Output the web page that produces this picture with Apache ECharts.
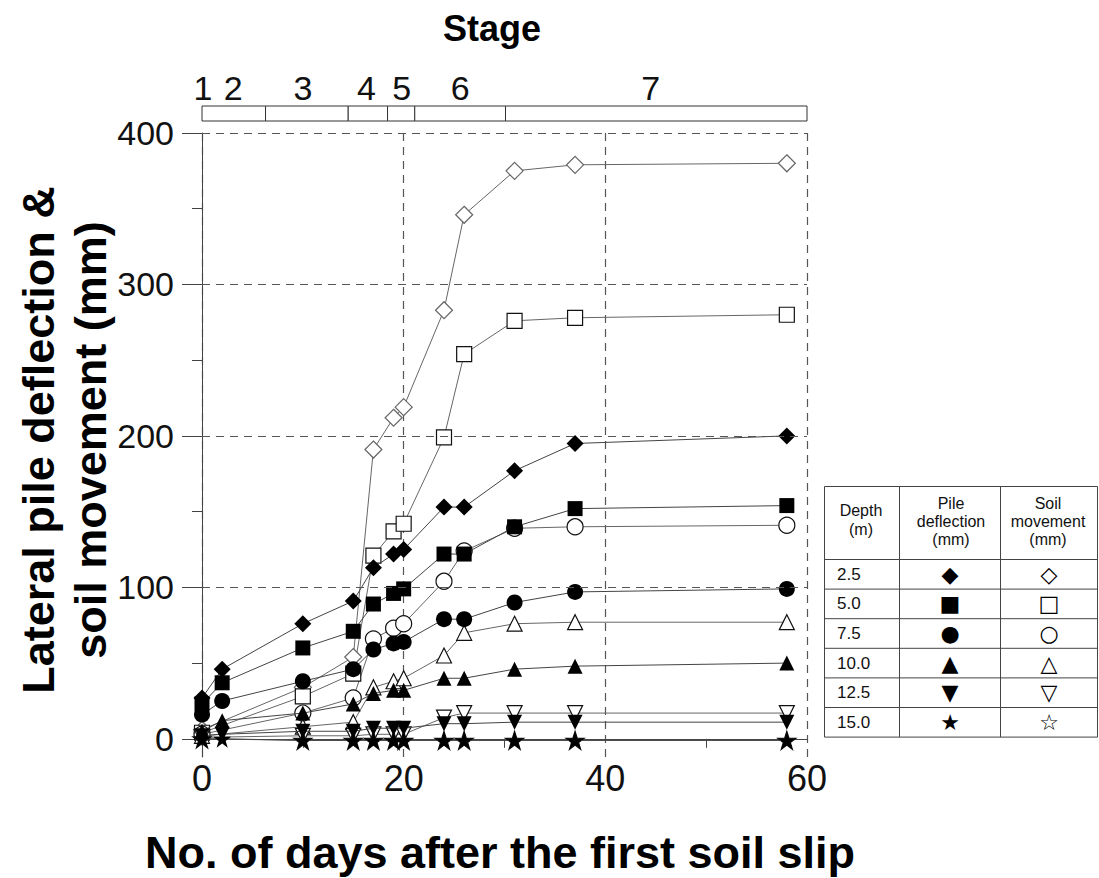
<!DOCTYPE html>
<html>
<head>
<meta charset="utf-8">
<script src="https://cdn.jsdelivr.net/npm/echarts@6/dist/echarts.min.js"></script>
<style>
  html, body { margin: 0; padding: 0; background: #fff; }
  #chart { width: 1099px; height: 878px; }
</style>
</head>
<body>
<div id="chart"></div>
<script>
// days of each reading
const pileDays = [0, 2, 10, 15, 17, 19, 20, 24, 26, 31, 37, 58];
const soilDays = [0, 10, 15, 17, 19, 20, 24, 26, 31, 37, 58];

// pile deflection (mm) per depth
const pile25 = [27, 46, 76, 91, 113, 122, 125, 153, 153, 177, 195, 200];
const pile50 = [23, 37, 60, 71, 89, 96, 99, 122, 122, 140, 152, 154];
const pile75 = [16, 25, 38, 46, 59, 63, 64, 79, 79, 90, 97, 99];
const pile100 = [5, 12, 17, 23, 30, 32, 32, 40, 40, 46, 48, 50];
const pile125 = [2, 3, 5, 5, 7, 7, 7, 10, 10, 11, 11, 11];
const pile150 = [0, 0, -1, -1, -1, -1, -1, -1, -1, -1, -1, -1];

// soil movement (mm) per depth
const soil25 = [6, 34, 54, 191, 212, 219, 283, 346, 375, 379, 380];
const soil50 = [4, 28, 43, 121, 137, 142, 199, 254, 276, 278, 280];
const soil75 = [3, 17, 27, 66, 73, 76, 104, 124, 139, 140, 141];
const soil100 = [2, 8, 11, 34, 38, 40, 55, 70, 76, 77, 77];
const soil125 = [1, 2, 2, 3, 3, 3, 14, 17, 17, 17, 17];
const soil150 = [0, -1, -1, -1, -1, -1, -1, -1, -1, -1, -1];

const depthLabels = ['2.5', '5.0', '7.5', '10.0', '12.5', '15.0'];
const pileGlyphs = ['\u25C6', '\u25A0', '\u25CF', '\u25B2', '\u25BC', '\u2605'];
const soilGlyphs = ['\u25C7', '\u25A1', '\u25CB', '\u25B3', '\u25BD', '\u2606'];

// stages along the time axis
const stageEdges = [0, 6.3, 14.5, 18.4, 21.1, 30.1, 60];
const stageNames = ['1', '2', '3', '4', '5', '6', '7'];
const stageLabelDays = [0.1, 3.1, 10, 16.3, 19.8, 25.6, 44.5];

const yLabelValues = [0, 100, 200, 300, 400];
const yMinorValues = [50, 150, 250, 350];
const gridValues = [100, 200, 300, 400];

const FONT = '"Liberation Sans", Arial, sans-serif';
const STAR = 'path://M50,2 L61.8,38.2 L99,38.2 L69,60 L80.4,96 L50,74 L19.6,96 L31,60 L1,38.2 L38.2,38.2 Z';
const shapes = ['diamond', 'rect', 'circle', 'triangle', 'triangle', STAR];
const rotates = [0, 0, 0, 0, 180, 0];
const sizes = [17, 15, 16, 15, 15, 18];

function lineSeries(name, days, vals, i, open) {
  return {
    name: name,
    type: 'line',
    data: days.map((d, k) => [d, vals[k]]),
    symbol: shapes[i],
    symbolRotate: rotates[i],
    symbolSize: sizes[i],
    showAllSymbol: true,
    z: open ? 2 : 3,
    lineStyle: { color: open ? '#666' : '#444', width: 1 },
    itemStyle: open
      ? { color: '#fff', borderColor: i === 0 ? '#666' : '#111', borderWidth: 1.2 }
      : { color: '#000', borderWidth: 0 },
    emphasis: { disabled: true }
  };
}

const soilSets = [soil25, soil50, soil75, soil100, soil125, soil150];
const pileSets = [pile25, pile50, pile75, pile100, pile125, pile150];

const series = [];
soilSets.forEach((s, i) => series.push(lineSeries('Soil ' + depthLabels[i], soilDays, s, i, true)));
pileSets.forEach((s, i) => series.push(lineSeries('Pile ' + depthLabels[i], pileDays, s, i, false)));

// dashed horizontal grid
series[0].markLine = {
  silent: true,
  symbol: ['none', 'none'],
  label: { show: false },
  lineStyle: { color: '#555', width: 1.2, type: [8, 6] },
  data: gridValues.map(v => ({ yAxis: v }))
};

// stage boxes above the plot
series.push({
  type: 'custom',
  clip: false,
  silent: true,
  data: stageEdges.slice(0, -1).map((d, k) => [d, stageEdges[k + 1]]),
  renderItem: function (params, api) {
    const a = api.coord([api.value(0), 400]);
    const b = api.coord([api.value(1), 400]);
    return {
      type: 'rect',
      shape: { x: a[0], y: a[1] - 27, width: b[0] - a[0], height: 15 },
      style: { fill: '#fff', stroke: '#333', lineWidth: 1 }
    };
  }
});
series.push({
  type: 'custom',
  clip: false,
  silent: true,
  data: stageLabelDays.map(d => [d, 400]),
  renderItem: function (params, api) {
    const p = api.coord([api.value(0), 400]);
    return {
      type: 'text',
      x: p[0], y: p[1] - 45,
      style: {
        text: stageNames[params.dataIndex],
        font: '34px ' + FONT,
        fill: '#111',
        align: 'center',
        verticalAlign: 'middle'
      }
    };
  }
});

// legend table
const colX = [824.5, 899.5, 1000.5, 1097.5];
const tableTop = 486.5, headBottom = 559.5, rowH = 29.6;
const lineStyle = { stroke: '#444', lineWidth: 1 };
const graphic = [];
graphic.push({ type: 'rect', shape: { x: colX[0], y: tableTop, width: colX[3] - colX[0], height: headBottom + rowH * 6 - tableTop }, style: { fill: '#fff', stroke: '#444', lineWidth: 1 } });
[1, 2].forEach(c => graphic.push({ type: 'line', shape: { x1: colX[c], y1: tableTop, x2: colX[c], y2: headBottom + rowH * 6 }, style: lineStyle }));
for (let r = 0; r < 6; r++) {
  graphic.push({ type: 'line', shape: { x1: colX[0], y1: headBottom + rowH * r, x2: colX[3], y2: headBottom + rowH * r }, style: lineStyle });
}
const headFont = '16px ' + FONT;
graphic.push({ type: 'text', x: 861, y: 520, style: { text: 'Depth\n(m)', font: headFont, lineHeight: 19, align: 'center', verticalAlign: 'middle', fill: '#111' } });
graphic.push({ type: 'text', x: 951, y: 521, style: { text: 'Pile\ndeflection\n(mm)', font: headFont, lineHeight: 18, align: 'center', verticalAlign: 'middle', fill: '#111' } });
graphic.push({ type: 'text', x: 1048, y: 521, style: { text: 'Soil\nmovement\n(mm)', font: headFont, lineHeight: 18, align: 'center', verticalAlign: 'middle', fill: '#111' } });
depthLabels.forEach((d, r) => {
  const cy = headBottom + rowH * (r + 0.5);
  graphic.push({ type: 'text', x: 837, y: cy, style: { text: d, font: '17px ' + FONT, align: 'left', verticalAlign: 'middle', fill: '#111' } });
  graphic.push({ type: 'text', x: 950, y: cy, style: { text: pileGlyphs[r], font: '22px "DejaVu Sans"', align: 'center', verticalAlign: 'middle', fill: '#000' } });
  graphic.push({ type: 'text', x: 1049, y: cy, style: { text: soilGlyphs[r], font: '22px "DejaVu Sans"', align: 'center', verticalAlign: 'middle', fill: '#000' } });
});

// titles
graphic.push({ type: 'text', x: 492, y: 28, style: { text: 'Stage', font: 'bold 36px ' + FONT, align: 'center', verticalAlign: 'middle', fill: '#000' } });
graphic.push({ type: 'text', x: 500, y: 852, style: { text: 'No. of days after the first soil slip', font: 'bold 45px ' + FONT, align: 'center', verticalAlign: 'middle', fill: '#000' } });
graphic.push({ type: 'text', x: 64, y: 440, rotation: Math.PI / 2, style: { text: 'Lateral pile deflection &\nsoil movement (mm)', font: 'bold 45px ' + FONT, lineHeight: 52, align: 'center', verticalAlign: 'middle', fill: '#000' } });

const chart = echarts.init(document.getElementById('chart'), null, { renderer: 'svg' });
chart.setOption({
  animation: false,
  backgroundColor: '#fff',
  grid: { left: 202, right: 292, top: 133, bottom: 121 },
  xAxis: {
    type: 'value', min: 0, max: 60, interval: 20,
    axisLine: { onZero: true, lineStyle: { color: '#444', width: 1 } },
    axisTick: { show: false },
    minorTick: { show: true, splitNumber: 2, length: 9, lineStyle: { color: '#444' } },
    axisLabel: { fontSize: 36, fontFamily: FONT, color: '#111', margin: 3 },
    splitLine: { show: true, lineStyle: { color: '#555', width: 1.2, type: [8, 6] } }
  },
  yAxis: [
    {
      type: 'value', min: -12, max: 400,
      axisLine: { show: true, lineStyle: { color: '#444', width: 1 } },
      axisTick: { show: true, length: 20, customValues: yLabelValues, lineStyle: { color: '#444' } },
      axisLabel: { customValues: yLabelValues, fontSize: 34, fontFamily: FONT, color: '#111', margin: 28 },
      splitLine: { show: false }
    },
    {
      type: 'value', min: -12, max: 400, position: 'left',
      axisLine: { show: false },
      axisTick: { show: true, length: 10, customValues: yMinorValues, lineStyle: { color: '#444' } },
      axisLabel: { show: false },
      splitLine: { show: false }
    }
  ],
  series: series,
  graphic: graphic
});
</script>
</body>
</html>
